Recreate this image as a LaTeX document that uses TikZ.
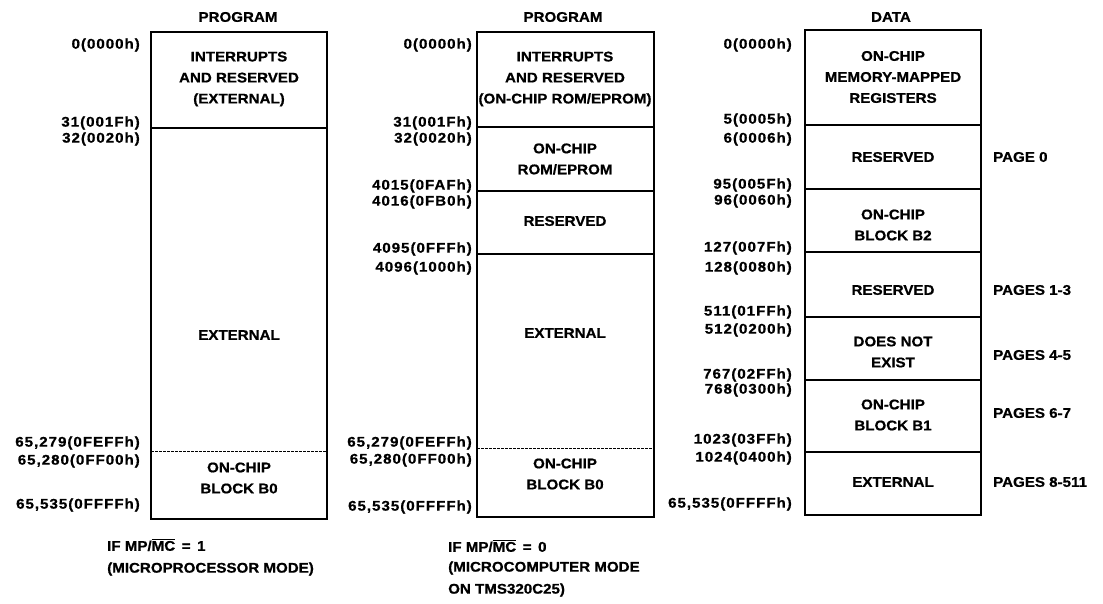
\documentclass[tikz,border=0pt]{standalone}
\usepackage{fontspec}
\setmainfont{Liberation Sans}[FakeStretch=1.08, FakeBold=0.8]
\newfontfamily\addrfont{Liberation Sans}[FakeStretch=1.08, LetterSpace=7, FakeBold=0.8]
\begin{document}
\begin{tikzpicture}[x=1pt,y=-1pt,
  every node/.style={font=\bfseries\fontsize{14}{21}\selectfont, inner sep=0pt},
  addr/.style={anchor=east, font=\addrfont\bfseries\fontsize{14}{21}\selectfont},
  cell/.style={align=center},
  pg/.style={anchor=west},
  note/.style={anchor=west, align=left},
  boxline/.style={line width=1.8pt},
  divline/.style={line width=1.4pt},
  dashline/.style={line width=0.9pt, dash pattern=on 2.5pt off 1.5pt}]
\useasboundingbox (0,0) rectangle (1103,603);

% ---------- left: program, microprocessor mode ----------
\node (h1) at (238,17) {PROGRAM};
\draw[boxline] (151,32) rectangle (327,519);
\draw[divline] (151,128) -- (327,128);
\draw[dashline] (151,451) -- (327,451);
\node[cell] (l1) at (239,79) {INTERRUPTS\\AND RESERVED\\(EXTERNAL)};
\node (l2) at (239,335) {EXTERNAL};
\node[cell] (l3) at (239,478) {ON-CHIP\\BLOCK B0};
\node[addr] (la1) at (140,45) {0(0000h)};
\node[addr] (la2) at (140,123) {31(001Fh)};
\node[addr] (la3) at (140,139) {32(0020h)};
\node[addr] (la4) at (140,443) {65,279(0FEFFh)};
\node[addr] (la5) at (140,461) {65,280(0FF00h)};
\node[addr] (la6) at (140,505) {65,535(0FFFFh)};
\node[note] (ln1) at (107,545) {IF MP/$\overline{\hbox{MC}}$ \,=\, 1};
\node[note] (ln2) at (107,569) {(MICROPROCESSOR MODE)};

% ---------- middle: program, microcomputer mode ----------
\node (h2) at (563,17) {PROGRAM};
\draw[boxline] (477,32) rectangle (654,517);
\draw[divline] (477,127) -- (654,127);
\draw[divline] (477,191) -- (654,191);
\draw[divline] (477,254) -- (654,254);
\draw[dashline] (477,448) -- (654,448);
\node[cell] (m1) at (565,79) {INTERRUPTS\\AND RESERVED\\(ON-CHIP ROM/EPROM)};
\node[cell] (m2) at (565,159) {ON-CHIP\\ROM/EPROM};
\node (m3) at (565,221) {RESERVED};
\node (m4) at (565,333) {EXTERNAL};
\node[cell] (m5) at (565,474) {ON-CHIP\\BLOCK B0};
\node[addr] (ma1) at (472,45) {0(0000h)};
\node[addr] (ma2) at (472,123) {31(001Fh)};
\node[addr] (ma3) at (472,139) {32(0020h)};
\node[addr] (ma4) at (472,186) {4015(0FAFh)};
\node[addr] (ma5) at (472,202) {4016(0FB0h)};
\node[addr] (ma6) at (472,249) {4095(0FFFh)};
\node[addr] (ma7) at (472,268) {4096(1000h)};
\node[addr] (ma8) at (472,443) {65,279(0FEFFh)};
\node[addr] (ma9) at (472,460) {65,280(0FF00h)};
\node[addr] (ma10) at (472,507) {65,535(0FFFFh)};
\node[note] (mn1) at (448,546) {IF MP/$\overline{\hbox{MC}}$ \,=\, 0};
\node[note] (mn2) at (448,568) {(MICROCOMPUTER MODE};
\node[note] (mn3) at (448,590) {ON TMS320C25)};

% ---------- right: data ----------
\node (h3) at (891,17) {DATA};
\draw[boxline] (805,30) rectangle (981,515);
\foreach \yy in {125,189,252,317,380,452}
  \draw[divline] (805,\yy) -- (981,\yy);
\node[cell] (r1) at (893,77) {ON-CHIP\\MEMORY-MAPPED\\REGISTERS};
\node (r2) at (893,157) {RESERVED};
\node[cell] (r3) at (893,225) {ON-CHIP\\BLOCK B2};
\node (r4) at (893,290) {RESERVED};
\node[cell] (r5) at (893,352) {DOES NOT\\EXIST};
\node[cell] (r6) at (893,415) {ON-CHIP\\BLOCK B1};
\node (r7) at (893,482) {EXTERNAL};
\node[addr] (ra1) at (792,45) {0(0000h)};
\node[addr] (ra2) at (792,120) {5(0005h)};
\node[addr] (ra3) at (792,139) {6(0006h)};
\node[addr] (ra4) at (792,185) {95(005Fh)};
\node[addr] (ra5) at (792,201) {96(0060h)};
\node[addr] (ra6) at (792,248) {127(007Fh)};
\node[addr] (ra7) at (792,268) {128(0080h)};
\node[addr] (ra8) at (792,312) {511(01FFh)};
\node[addr] (ra9) at (792,330) {512(0200h)};
\node[addr] (ra10) at (792,375) {767(02FFh)};
\node[addr] (ra11) at (792,390) {768(0300h)};
\node[addr] (ra12) at (792,440) {1023(03FFh)};
\node[addr] (ra13) at (792,458) {1024(0400h)};
\node[addr] (ra14) at (792,504) {65,535(0FFFFh)};
\node[pg] (p1) at (993,157) {PAGE 0};
\node[pg] (p2) at (993,290) {PAGES 1-3};
\node[pg] (p3) at (993,355) {PAGES 4-5};
\node[pg] (p4) at (993,413) {PAGES 6-7};
\node[pg] (p5) at (993,482) {PAGES 8-511};
\end{tikzpicture}
\end{document}
